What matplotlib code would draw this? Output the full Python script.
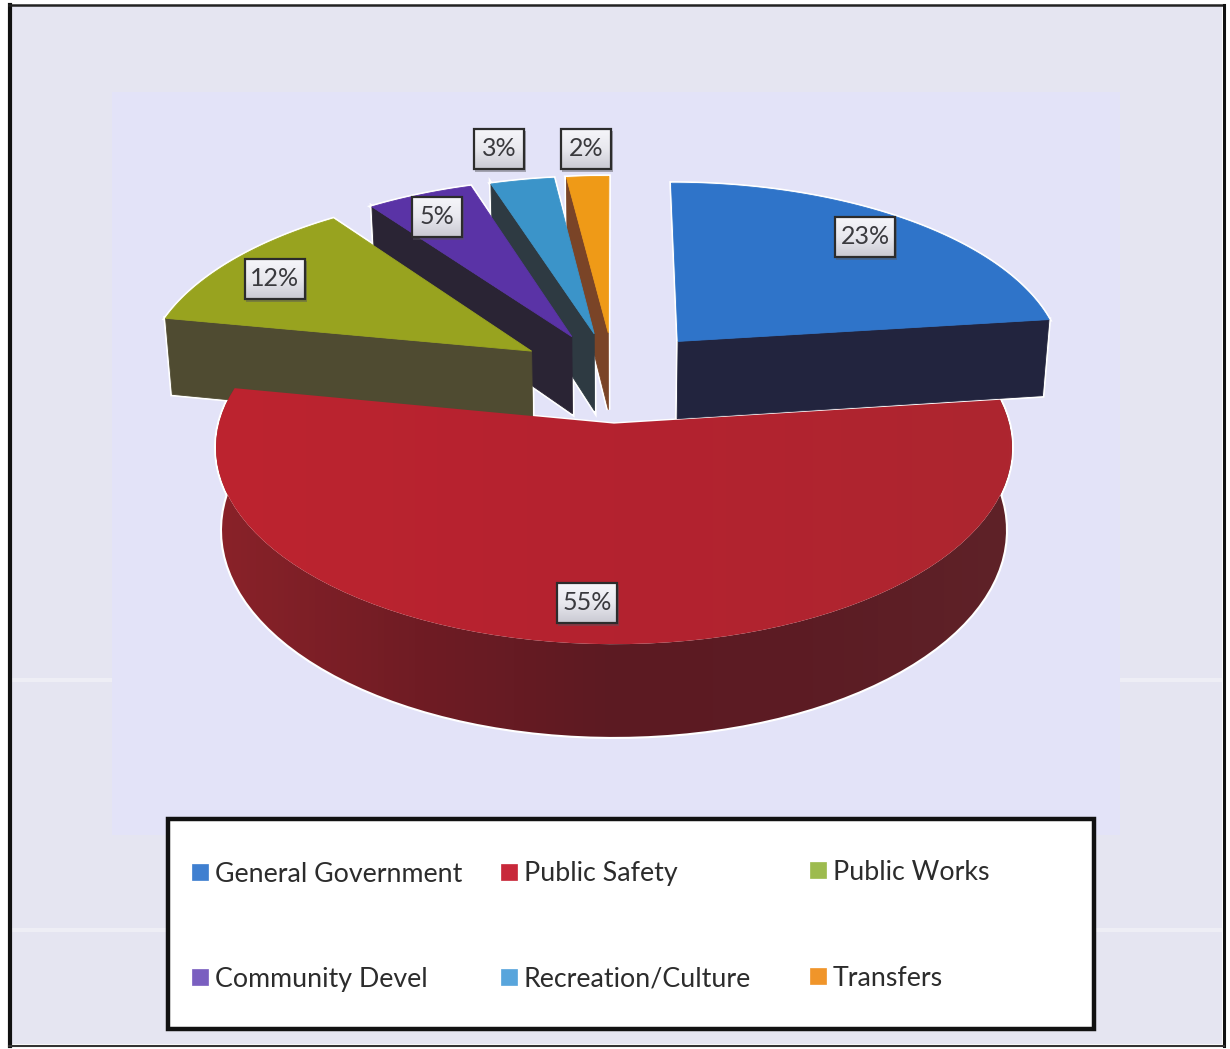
import numpy as np
import matplotlib
matplotlib.use("Agg")
import matplotlib.pyplot as plt
from matplotlib.colors import LinearSegmentedColormap
from matplotlib.patches import Polygon, Rectangle

plt.rcParams["font.family"] = ["Lato", "DejaVu Sans"]

# budget shares, in percent, clockwise from twelve o'clock
categories = ["General Government", "Public Safety", "Public Works",
              "Community Devel", "Recreation/Culture", "Transfers"]
shares = [23, 55, 12, 5, 3, 2]

top_colors = ["#2f74c9", "#b4222f", "#98a31f", "#5a33a6", "#3b94c9", "#ef9a17"]
wall_colors = ["#22243e", "#62181f", "#4f4b31", "#2a2434", "#2e3a42", "#7a4427"]
legend_colors = ["#3f7fd0", "#c8283a", "#9dbb4e", "#7a5fc0", "#58a5dc", "#f0952a"]

# pie projection: centre, scales, perspective, thickness
cx, cy = 614, 376
rx, ry = 389, 185
persp = 0.12
thick = 79
taper = 0.985

# how far each slice is pulled out, and its radius
explode = [0.255, 0.25, 0.255, 0.245, 0.24, 0.24]
radius = [1.0, 0.985, 1.0, 1.0, 1.0, 1.0]

label_xy = [(865, 237), (587, 603), (275, 279), (437, 217), (499, 149), (586, 149)]
legend_xy = [(192, 872), (501, 872), (810, 870), (192, 977), (501, 977), (810, 976)]

edges = np.radians(np.cumsum([0] + shares) * 3.6)


def project(u, v, bottom=False):
    w = 1 + persp * v
    scale = taper if bottom else 1.0
    x = cx + rx * scale * u / w
    y = cy - ry * v / w
    if bottom:
        y = y + thick / w
    return x, y


def slice_points(i, bottom=False):
    # apex and rim of one slice, pushed out along its bisector
    mid = (edges[i] + edges[i + 1]) / 2
    ou, ov = explode[i] * np.sin(mid), explode[i] * np.cos(mid)
    if i == 1:
        ou = 0.0
    t = np.linspace(edges[i], edges[i + 1], 80)
    rim = project(ou + radius[i] * np.sin(t), ov + radius[i] * np.cos(t), bottom)
    apex = project(ou, ov, bottom)
    return apex, rim


def gradient_fill(ax, verts, colors, vertical=False, zorder=2):
    # a flat image clipped to the polygon gives the shaded faces
    cmap = LinearSegmentedColormap.from_list("face", colors)
    xs, ys = zip(*verts)
    grad = np.linspace(0, 1, 256)
    grad = grad[:, None] if vertical else grad[None, :]
    im = ax.imshow(grad, cmap=cmap, aspect="auto", zorder=zorder,
                   extent=(min(xs), max(xs), max(ys), min(ys)))
    clip = Polygon(verts, closed=True, transform=ax.transData)
    im.set_clip_path(clip)


def wall_verts(i, end):
    apex, rim = slice_points(i)
    apex_b, rim_b = slice_points(i, bottom=True)
    k = -1 if end else 0
    return [apex, (rim[0][k], rim[1][k]), (rim_b[0][k], rim_b[1][k]), apex_b]


def top_verts(i):
    apex, rim = slice_points(i)
    return [apex] + list(zip(rim[0], rim[1]))


fig = plt.figure(figsize=(12.3, 10.49), dpi=100)
ax = fig.add_axes([0, 0, 1, 1])

# page background and frame
ax.add_patch(Rectangle((10, 6), 1212, 1038, fc="#e5e5f1", ec="none", zorder=0))
ax.add_patch(Rectangle((112, 92), 1008, 743, fc="#e3e3f8", ec="none", zorder=0.1))
for x0, x1, y0 in [(12, 110, 680), (12, 165, 930), (1122, 1220, 680), (1097, 1220, 930)]:
    ax.plot([x0, x1], [y0, y0], color="#eeeef5", lw=3, zorder=0.2)
ax.plot([9.5, 9.5], [5, 1046], color="#111111", lw=3, zorder=0.3)
ax.plot([9, 1224], [5, 5], color="#222222", lw=1.8, zorder=0.3)
ax.plot([1223.5, 1223.5], [5, 1046], color="#111111", lw=2.2, zorder=0.3)
ax.plot([9, 1224], [1045.5, 1045.5], color="#333333", lw=1.5, zorder=0.3)

# back slices are drawn first so that the nearer ones overlap them
order = [5, 4, 3, 2, 0]
z = 2.0
for i in order:
    wall = wall_verts(i, end=(i == 0))
    top = top_verts(i)
    # thin white outline stays underneath every slice
    ax.add_patch(Polygon(wall, closed=True, fc="white", ec="white", lw=3, zorder=1))
    ax.add_patch(Polygon(top, closed=True, fc="white", ec="white", lw=3, zorder=1))
    ax.add_patch(Polygon(wall, closed=True, fc=wall_colors[i], ec=wall_colors[i], lw=0.6, zorder=z + 0.1))
    ax.add_patch(Polygon(top, closed=True, fc=top_colors[i], ec=top_colors[i], lw=0.6, zorder=z + 0.2))
    z += 1

# the large front slice with its curved side
apex, rim = slice_points(1)
apex_b, rim_b = slice_points(1, bottom=True)
side = list(zip(rim[0], rim[1])) + list(zip(rim_b[0][::-1], rim_b[1][::-1]))
top = top_verts(1)
ax.add_patch(Polygon(side, closed=True, fc="white", ec="white", lw=3, zorder=1))
ax.add_patch(Polygon(top, closed=True, fc="white", ec="white", lw=2, zorder=1))
gradient_fill(ax, side, ["#8a2229", "#701c24", "#5c1a22", "#5c1c24", "#5f2228"], zorder=z + 0.1)
gradient_fill(ax, top, ["#bd2430", "#b4222f", "#ad2630"], zorder=z + 0.2)

# value labels in small shaded boxes, wider for two digits
for (lx, ly), v in zip(label_xy, shares):
    hw = 30 if v >= 10 else 25
    box = [(lx - hw, ly - 20), (lx + hw, ly - 20), (lx + hw, ly + 20), (lx - hw, ly + 20)]
    ax.add_patch(Rectangle((lx - hw + 1, ly - 18), 2 * hw + 1, 41, fc="#55555c", ec="none", alpha=0.45, zorder=20))
    gradient_fill(ax, box, ["#f6f6fa", "#e8e8ee", "#c9c9d2"], vertical=True, zorder=20.5)
    ax.add_patch(Polygon(box, closed=True, fc="none", ec="#2c2c2c", lw=1.6, zorder=21))
    ax.text(lx, ly, f"{v}%", ha="center", va="center", fontsize=18, color="#3a3a3e", zorder=22)

# legend
ax.add_patch(Rectangle((168, 819), 926, 210, fc="white", ec="#111111", lw=3.2, zorder=30))
for (lx, ly), name, c in zip(legend_xy, categories, legend_colors):
    ax.add_patch(Rectangle((lx, ly - 8), 16, 16, fc=c, ec=c, lw=0.5, zorder=31))
    ax.text(lx + 23, ly + 2, name, ha="left", va="center", fontsize=19.3, color="#2c2c2c", zorder=31)

ax.set_xlim(0, 1230)
ax.set_ylim(1049, 0)
ax.axis("off")
fig.savefig("out.png", dpi=100, facecolor="white")
